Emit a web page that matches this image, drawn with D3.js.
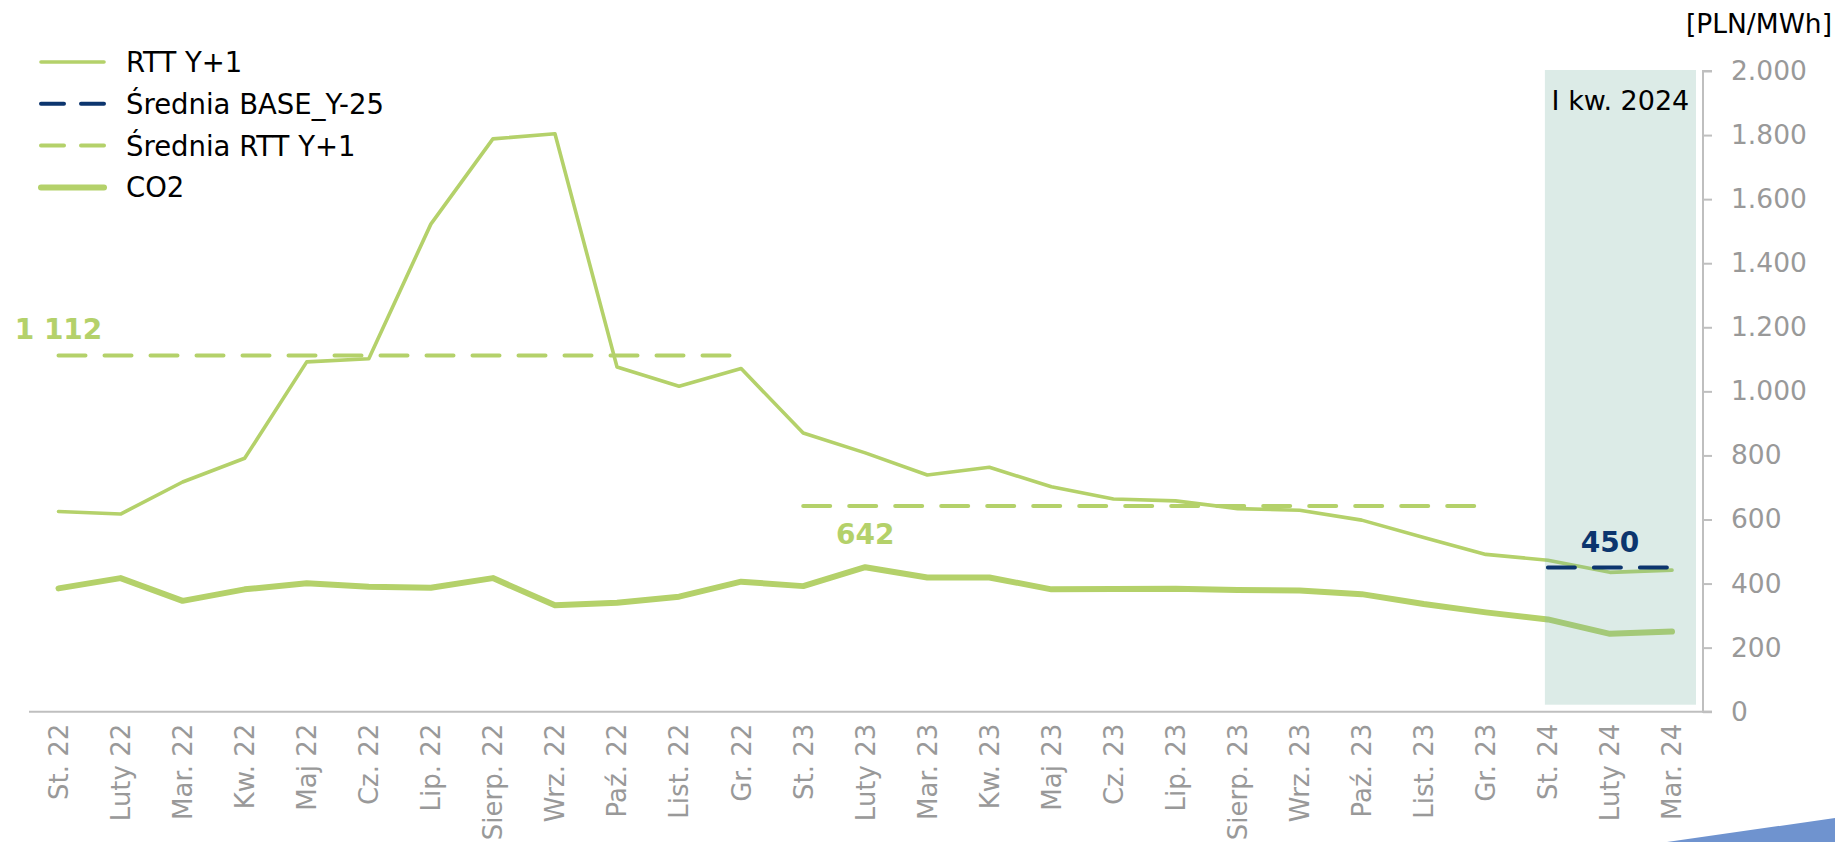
<!DOCTYPE html>
<html>
<head>
<meta charset="utf-8">
<script src="https://cdn.jsdelivr.net/npm/d3@7"></script>
<style>
  html, body { margin: 0; padding: 0; background: #ffffff; }
  svg { display: block; }
  text { font-family: "DejaVu Sans", Verdana, sans-serif; }
</style>
</head>
<body>
<svg id="chart" width="1835" height="842"></svg>
<script>
// ---- data ----
const categories = ["St. 22","Luty 22","Mar. 22","Kw. 22","Maj 22","Cz. 22","Lip. 22","Sierp. 22","Wrz. 22","Paź. 22","List. 22","Gr. 22",
  "St. 23","Luty 23","Mar. 23","Kw. 23","Maj 23","Cz. 23","Lip. 23","Sierp. 23","Wrz. 23","Paź. 23","List. 23","Gr. 23",
  "St. 24","Luty 24","Mar. 24"];
const rttY1 = [625,617,717,791,1092,1102,1522,1788,1804,1076,1016,1071,870,808,739,763,702,664,658,634,629,598,544,491,473,435,442];
const co2 = [385,417,346,382,401,390,387,417,332,340,359,406,392,451,419,419,382,383,384,380,378,367,336,310,288,243,250];
const avgRtt2022 = [{cat: "St. 22", v: 1112}, {cat: "Gr. 22", v: 1112}];
const avgRtt2023 = [{cat: "St. 23", v: 642}, {cat: "Gr. 23", v: 642}];
const avgBase2024 = [{cat: "St. 24", v: 450}, {cat: "Mar. 24", v: 450}];
const avgLabels = [
  {cat: "St. 22", v: 1112, text: "1 112", kind: "rtt", dy: -16},
  {cat: "Luty 23", v: 642, text: "642", kind: "rtt", dy: 38},
  {cat: "Luty 24", v: 450, text: "450", kind: "base", dy: -16}
];
const yTicks = [0,200,400,600,800,1000,1200,1400,1600,1800,2000];
const highlightCats = ["St. 24", "Mar. 24"];
const highlightLabel = "I kw. 2024";
const unitLabel = "[PLN/MWh]";
const legendItems = [
  {name: "RTT Y+1", kind: "rtt"},
  {name: "Średnia BASE_Y-25", kind: "base"},
  {name: "Średnia RTT Y+1", kind: "avg"},
  {name: "CO2", kind: "co2"}
];

// ---- styles ----
const GREEN = "#b4d16a";
const NAVY = "#0c356e";
const AXIS = "#bfbfbf";
const TICKTXT = "#999999";

const svg = d3.select("#chart");
const x = d3.scalePoint().domain(categories).range([58.5, 1672]);
const y = d3.scaleLinear().domain([0, 2000]).range([711.7, 71]);
const axisX = 1703;
const fmt = d3.formatLocale({decimal: ",", thousands: ".", grouping: [3], currency: ["", ""]}).format(",d");

// highlight background
const hx0 = x(highlightCats[0]) - 3, hx1 = x(highlightCats[1]) + 24;

// lines
const line = d3.line().x((d, i) => x(categories[i])).y(d => y(d));
const segLine = d3.line().x(d => x(d.cat)).y(d => y(d.v));

svg.append("path").datum(co2).attr("d", line)
  .attr("fill", "none").attr("stroke", GREEN).attr("stroke-width", 6)
  .attr("stroke-linejoin", "round").attr("stroke-linecap", "round");
svg.append("path").datum(rttY1).attr("d", line)
  .attr("fill", "none").attr("stroke", GREEN).attr("stroke-width", 3.6)
  .attr("stroke-linejoin", "round").attr("stroke-linecap", "round");
[avgRtt2022, avgRtt2023].forEach(seg => {
  svg.append("path").datum(seg).attr("d", segLine)
    .attr("fill", "none").attr("stroke", GREEN).attr("stroke-width", 4)
    .attr("stroke-dasharray", "27,19").attr("stroke-linecap", "round");
});

// shaded quarter (drawn over green lines, semi-transparent)
svg.append("rect")
  .attr("x", hx0).attr("y", y(2000) - 1)
  .attr("width", hx1 - hx0).attr("height", y(0) - 7 - (y(2000) - 1))
  .attr("fill", "rgb(120,178,163)").attr("fill-opacity", 0.26);
svg.append("text").attr("x", (hx0 + hx1) / 2).attr("y", 110)
  .attr("text-anchor", "middle").attr("font-size", 27).attr("fill", "#000")
  .text(highlightLabel);

svg.append("path").datum(avgBase2024).attr("d", segLine)
  .attr("fill", "none").attr("stroke", NAVY).attr("stroke-width", 4)
  .attr("stroke-dasharray", "27,19").attr("stroke-linecap", "round");

// average labels
avgLabels.forEach(l => {
  svg.append("text").attr("x", x(l.cat)).attr("y", y(l.v) + l.dy)
    .attr("text-anchor", "middle").attr("font-size", 28).attr("font-weight", "bold")
    .attr("fill", l.kind === "base" ? NAVY : GREEN).text(l.text);
});

// x axis
svg.append("line").attr("x1", 29).attr("x2", axisX + 9)
  .attr("y1", y(0)).attr("y2", y(0)).attr("stroke", AXIS).attr("stroke-width", 2);
const xg = svg.append("g");
categories.forEach(c => {
  xg.append("text")
    .attr("transform", `translate(${x(c)},${y(0) + 12}) rotate(-90)`)
    .attr("text-anchor", "end").attr("dy", "0.36em")
    .attr("font-size", 26).attr("fill", TICKTXT).text(c);
});

// y axis (right)
const yAxis = d3.axisRight(y).tickValues(yTicks).tickSize(9).tickPadding(19).tickFormat(d => fmt(d));
const yg = svg.append("g").attr("transform", `translate(${axisX},0)`).call(yAxis);
yg.select(".domain").attr("stroke", AXIS).attr("stroke-width", 2).attr("d", `M9,${y(2000)}H0V${y(0)}H9`);
yg.selectAll(".tick line").attr("stroke", AXIS).attr("stroke-width", 2);
yg.selectAll(".tick text").attr("font-size", 26.5).attr("fill", TICKTXT)
  .attr("font-family", "DejaVu Sans, Verdana, sans-serif");

svg.append("text").attr("x", 1832).attr("y", 33).attr("text-anchor", "end")
  .attr("font-size", 26.5).attr("fill", "#000").text(unitLabel);

// legend
const lg = svg.append("g");
legendItems.forEach((it, i) => {
  const ly = 62 + i * 41.8;
  const ln = lg.append("line").attr("x1", 41).attr("x2", 104).attr("y1", ly).attr("y2", ly)
    .attr("stroke-linecap", "round");
  if (it.kind === "rtt") ln.attr("stroke", GREEN).attr("stroke-width", 3.6);
  if (it.kind === "co2") ln.attr("stroke", GREEN).attr("stroke-width", 6);
  if (it.kind === "base") ln.attr("stroke", NAVY).attr("stroke-width", 4).attr("stroke-dasharray", "23,17");
  if (it.kind === "avg") ln.attr("stroke", GREEN).attr("stroke-width", 4).attr("stroke-dasharray", "23,17");
  lg.append("text").attr("x", 126).attr("y", ly).attr("dy", "0.36em")
    .attr("font-size", 27.5).attr("fill", "#000").text(it.name);
});

// decorative corner shape
svg.append("path").attr("d", "M1667,842L1835,818L1835,842Z").attr("fill", "#6f93cf");
</script>
</body>
</html>
